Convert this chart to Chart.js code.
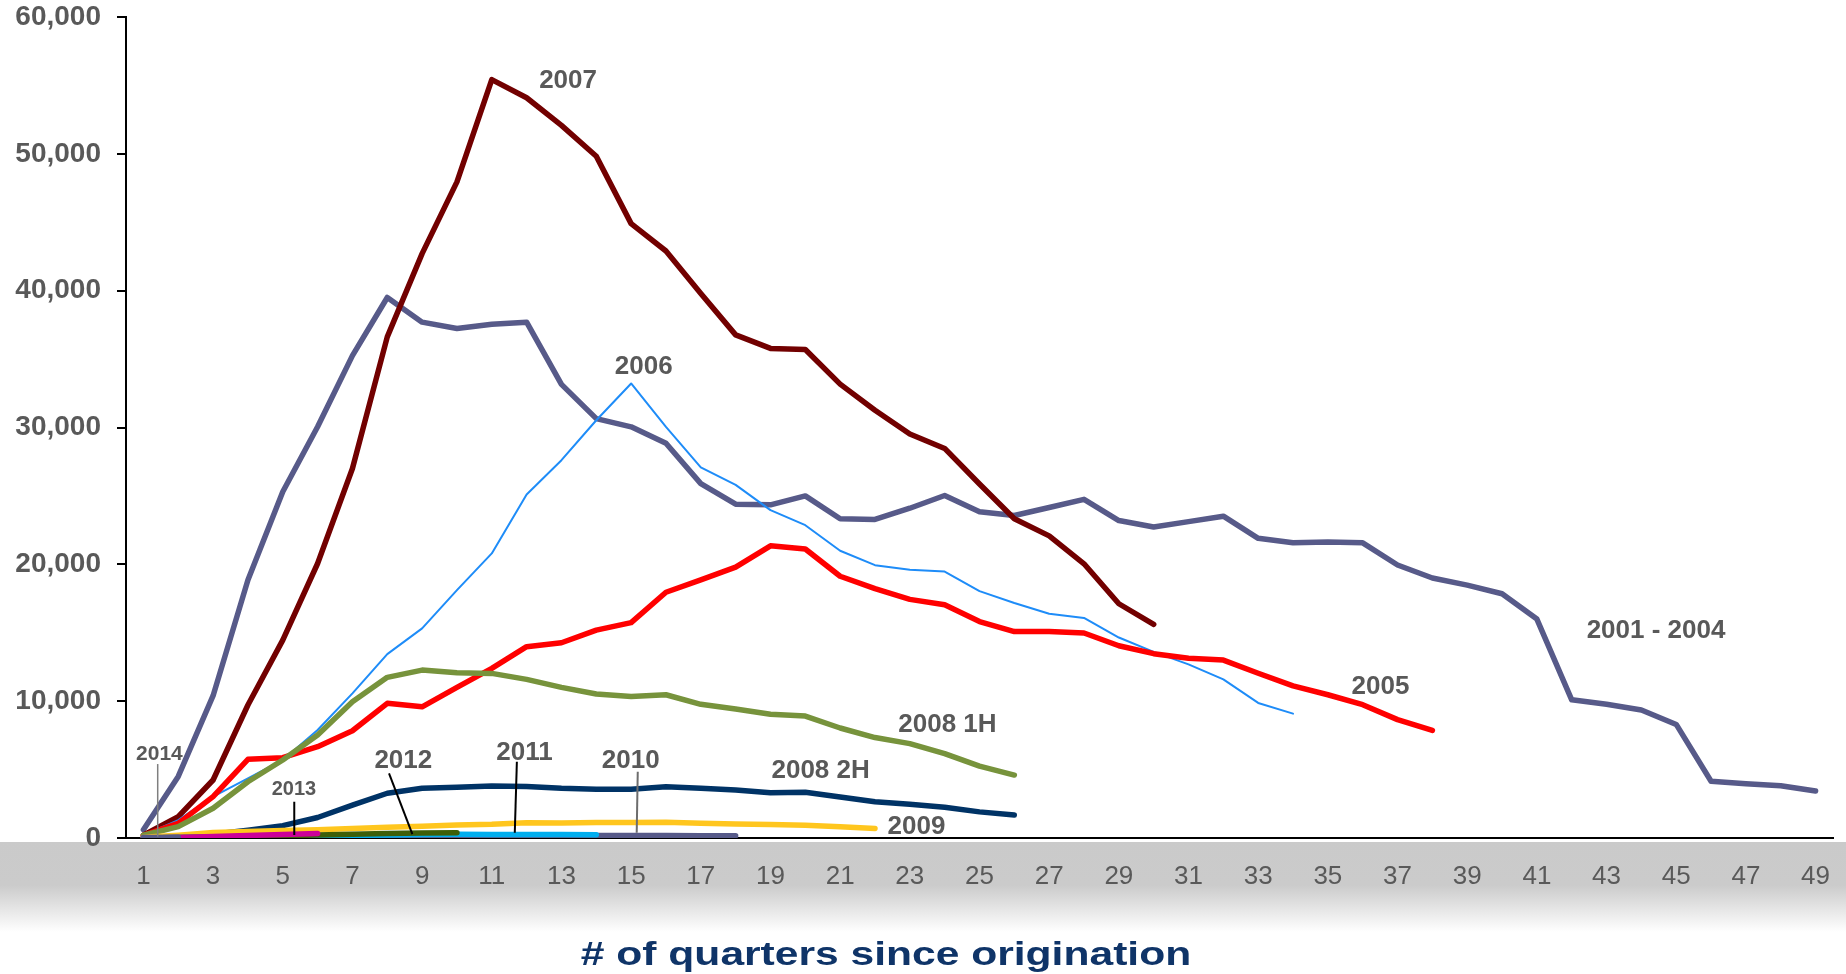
<!DOCTYPE html>
<html>
<head>
<meta charset="utf-8">
<script src="https://cdn.jsdelivr.net/npm/chart.js@4.4.0/dist/chart.umd.min.js"></script>
<style>
html,body{margin:0;padding:0;background:#ffffff;}
#wrap{width:1846px;height:974px;position:relative;}
</style>
</head>
<body>
<div id="wrap"><canvas id="c" width="1846" height="974"></canvas></div>
<script>
// ---- data ----
const categories = [1,2,3,4,5,6,7,8,9,10,11,12,13,14,15,16,17,18,19,20,21,22,23,24,25,26,27,28,29,30,31,32,33,34,35,36,37,38,39,40,41,42,43,44,45,46,47,48,49];

const s2001_2004 = [600,4500,10400,18850,25300,30050,35250,39500,37700,37230,37550,37700,33150,30650,30050,28850,25900,24400,24350,25000,23330,23280,24100,25030,23850,23570,24150,24750,23200,22730,23120,23520,21900,21580,21640,21570,19950,19000,18480,17850,16000,10100,9780,9350,8300,4150,3970,3820,3430];
const s2005 = [200,1070,3020,5750,5870,6670,7840,9840,9590,11010,12400,13980,14270,15190,15740,17960,18870,19790,21350,21120,19130,18220,17440,17050,15820,15090,15090,14980,14050,13470,13130,13000,12040,11120,10470,9740,8650,7860];
const s2006 = [200,1310,3020,4360,5700,7890,10570,13440,15320,18120,20800,25110,27610,30530,33220,30040,27090,25810,23960,22860,20990,19940,19610,19470,18040,17170,16390,16080,14650,13600,12690,11590,9870,9090];
const s2007 = [200,1560,4240,9720,14460,20060,27000,36620,42710,47950,55420,54100,52080,49820,44900,42900,39800,36770,35780,35700,33170,31260,29520,28470,25870,23330,22080,20040,17120,15610];
const s2008_1H = [200,830,2170,4110,5700,7520,9960,11740,12270,12080,12030,11590,11010,10520,10340,10470,9770,9430,9040,8910,8040,7340,6900,6170,5250,4600];
const s2008_2H = [50,100,270,560,900,1500,2400,3270,3630,3700,3800,3760,3630,3560,3560,3740,3640,3510,3300,3350,2990,2650,2460,2250,1910,1680];
const s2009 = [50,200,400,480,540,600,700,780,850,950,1000,1120,1100,1140,1130,1150,1080,1020,980,930,830,700];
const s2010 = [0,20,40,60,80,100,120,140,150,160,170,180,180,180,180,180,170,170];
const s2011 = [0,30,60,100,130,160,190,220,250,270,260,260,250,240];
const s2012 = [0,30,70,110,160,220,270,320,360,390];
const s2013 = [0,40,110,180,260,330];
const s2014 = [30,60];

const seriesNames = ['2014','2013','2012','2011','2010','2009','2008 2H','2008 1H','2005','2006','2007','2001 - 2004'];
const yTicks = [0,10000,20000,30000,40000,50000,60000];
const axisTitle = '# of quarters since origination';

// ---- styles ----
const FONT = "'Liberation Sans', Arial, Helvetica, sans-serif";
const SLATE = '#575A89';
const seriesStyle = {
  '2014':        {color: SLATE,     width: 5.5},
  '2013':        {color: '#CC0099', width: 5.5},
  '2012':        {color: '#3E5F08', width: 5.5},
  '2011':        {color: '#00AEEF', width: 5.5},
  '2010':        {color: SLATE,     width: 5.5},
  '2009':        {color: '#FFC61E', width: 5.5},
  '2008 2H':     {color: '#003366', width: 5.5},
  '2008 1H':     {color: '#77933C', width: 5.5},
  '2005':        {color: '#FF0000', width: 5.5},
  '2006':        {color: '#1E8CF8', width: 2},
  '2007':        {color: '#720000', width: 5.5},
  '2001 - 2004': {color: SLATE,     width: 5.5}
};
const seriesData = {
  '2014': s2014, '2013': s2013, '2012': s2012, '2011': s2011, '2010': s2010,
  '2009': s2009, '2008 2H': s2008_2H, '2008 1H': s2008_1H, '2005': s2005,
  '2006': s2006, '2007': s2007, '2001 - 2004': s2001_2004
};

// annotation labels, placed in data space (category index, value)
const annot = {
  labels: [
    {t:'2007',        i:12.19, v:55370, s:26},
    {t:'2006',        i:14.36, v:34400, s:26},
    {t:'2005',        i:35.51, v:11030, s:26},
    {t:'2001 - 2004', i:43.42, v:15120, s:26},
    {t:'2008 1H',     i:23.08, v:8290,  s:26},
    {t:'2008 2H',     i:19.44, v:4930,  s:26},
    {t:'2009',        i:22.19, v:840,   s:26},
    {t:'2010',        i:13.99, v:5620,  s:26},
    {t:'2011',        i:10.94, v:6250,  s:26},
    {t:'2012',        i:7.46,  v:5660,  s:26},
    {t:'2013',        i:4.32,  v:3580,  s:20},
    {t:'2014',        i:0.46,  v:6100,  s:21}
  ],
  pointers: [
    {i1:0.41, v1:5405, i2:0.41, v2:95,  c:'#7F7F7F', w:1.5},
    {i1:4.33, v1:2650, i2:4.33, v2:220, c:'#000000', w:2},
    {i1:7.05, v1:4730, i2:7.72, v2:290, c:'#000000', w:2},
    {i1:10.72,v1:5570, i2:10.66,v2:390, c:'#000000', w:2},
    {i1:14.19,v1:4840, i2:14.16,v2:390, c:'#6D6D6D', w:2}
  ]
};

const bandPlugin = {
  id: 'band',
  beforeDraw(chart) {
    const ctx = chart.ctx;
    const top = chart.chartArea.bottom + 4;
    const g = ctx.createLinearGradient(0, top, 0, top + 90);
    g.addColorStop(0, '#CACACA');
    g.addColorStop(0.48, '#CBCBCB');
    g.addColorStop(1, '#FFFFFF');
    ctx.save();
    ctx.fillStyle = g;
    ctx.fillRect(0, top, chart.width, chart.height - top);
    ctx.restore();
  }
};

const annotPlugin = {
  id: 'annot',
  afterDatasetsDraw(chart) {
    const ctx = chart.ctx, xs = chart.scales.x, ys = chart.scales.y;
    ctx.save();
    annot.pointers.forEach(p => {
      ctx.beginPath();
      ctx.strokeStyle = p.c; ctx.lineWidth = p.w;
      ctx.moveTo(xs.getPixelForValue(p.i1), ys.getPixelForValue(p.v1));
      ctx.lineTo(xs.getPixelForValue(p.i2), ys.getPixelForValue(p.v2));
      ctx.stroke();
    });
    ctx.fillStyle = '#595959';
    ctx.textAlign = 'center';
    ctx.textBaseline = 'middle';
    annot.labels.forEach(l => {
      ctx.font = 'bold ' + l.s + 'px ' + FONT;
      ctx.fillText(l.t, xs.getPixelForValue(l.i), ys.getPixelForValue(l.v));
    });
    ctx.restore();
  },
  afterDraw(chart) {
    const ctx = chart.ctx;
    ctx.save();
    ctx.font = 'bold 33px ' + FONT;
    ctx.fillStyle = '#0F3468';
    ctx.textAlign = 'center';
    ctx.textBaseline = 'alphabetic';
    ctx.translate(886, 965);
    ctx.scale(1.29, 1);
    ctx.fillText(axisTitle, 0, 0);
    ctx.restore();
  }
};

const datasets = seriesNames.map(n => ({
  label: n,
  data: seriesData[n],
  borderColor: seriesStyle[n].color,
  backgroundColor: seriesStyle[n].color,
  borderWidth: seriesStyle[n].width,
  pointRadius: 0,
  pointHoverRadius: 0,
  tension: 0,
  fill: false,
  borderJoinStyle: 'round',
  borderCapStyle: 'round'
}));

new Chart(document.getElementById('c'), {
  type: 'line',
  data: { labels: categories.map(String), datasets },
  options: {
    responsive: false,
    animation: false,
    events: [],
    layout: { padding: { top: 17, right: 13, left: 0, bottom: 0 } },
    plugins: { legend: { display: false }, tooltip: { enabled: false }, title: { display: false } },
    scales: {
      x: {
        type: 'category',
        offset: true,
        grid: { display: false },
        border: { display: true, color: '#000000', width: 2 },
        ticks: {
          autoSkip: false, maxRotation: 0, minRotation: 0, padding: 15,
          color: '#595959',
          font: { family: FONT, size: 26, weight: 'normal' },
          callback: function(val, idx) { return idx % 2 === 0 ? this.getLabelForValue(val) : ''; }
        },
        afterFit(s) { s.height = 136; s.paddingLeft = 0; s.paddingRight = 0; }
      },
      y: {
        min: 0, max: 60000,
        afterBuildTicks(s) { s.ticks = yTicks.map(v => ({ value: v })); },
        grid: { display: true, drawOnChartArea: false, drawTicks: true, tickLength: 9, color: '#000000', lineWidth: 2 },
        border: { display: true, color: '#000000', width: 2 },
        ticks: {
          padding: 16,
          color: '#595959',
          font: { family: FONT, size: 28, weight: 'bold' },
          callback: v => Number(v).toLocaleString('en-US')
        },
        afterFit(s) { s.width = 126; s.paddingTop = 0; s.paddingBottom = 0; }
      }
    }
  },
  plugins: [bandPlugin, annotPlugin]
});
</script>
</body>
</html>
